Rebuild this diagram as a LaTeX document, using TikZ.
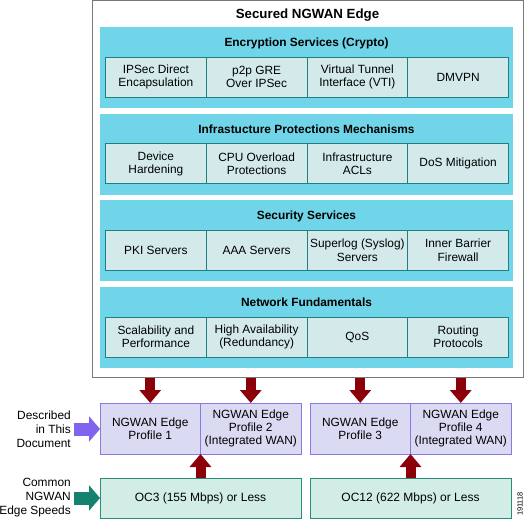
\documentclass[tikz,border=0pt]{standalone}
\usepackage{fontspec}
\setmainfont{Liberation Sans}
\usetikzlibrary{arrows.meta}
\definecolor{outerdraw}{RGB}{120,120,120}
\definecolor{bandfill}{RGB}{112,213,232}
\definecolor{cellfill}{RGB}{212,234,234}
\definecolor{celldraw}{RGB}{30,128,128}
\definecolor{proffill}{RGB}{218,218,242}
\definecolor{profdraw}{RGB}{140,120,228}
\definecolor{speedfill}{RGB}{210,236,230}
\definecolor{speeddraw}{RGB}{40,140,120}
\definecolor{darkred}{RGB}{140,0,10}
\definecolor{purplearrow}{RGB}{128,100,240}
\definecolor{greenarrow}{RGB}{20,130,110}
\tikzset{
  boxbase/.style={anchor=north west, inner sep=0pt, outer sep=0pt, align=center},
  outerbox/.style={boxbase, draw=outerdraw, fill=white, line width=1pt},
  bandbox/.style={boxbase, fill=bandfill, minimum width=413pt, minimum height=81pt},
  cellbox/.style={boxbase, draw=celldraw, fill=cellfill, line width=0.9pt,
    minimum width=100.75pt, minimum height=40pt, font=\fontsize{11.9}{13.3}\selectfont},
  profbox/.style={boxbase, draw=profdraw, fill=proffill, line width=0.9pt,
    minimum height=51pt, font=\fontsize{11.9}{13.3}\selectfont},
  speedbox/.style={boxbase, draw=speeddraw, fill=speedfill, line width=0.9pt,
    minimum width=201pt, minimum height=40pt, font=\fontsize{12}{13.3}\selectfont},
  titletext/.style={font=\bfseries\fontsize{13.3}{14}\selectfont},
  bandtitle/.style={font=\bfseries\fontsize{11.9}{13}\selectfont},
  sidelabel/.style={anchor=east, align=right, inner sep=0pt, font=\fontsize{11.9}{14}\selectfont},
  redarr/.style={draw=darkred, line width=10pt, -{Triangle[width=21pt,length=13pt]}},
  purplearr/.style={draw=purplearrow, line width=13pt, -{Triangle[width=25pt,length=11pt]}},
  greenarr/.style={draw=greenarrow, line width=13pt, -{Triangle[width=25pt,length=11pt]}},
}
\begin{document}
\begin{tikzpicture}[x=1pt,y=-1pt]
\useasboundingbox (0,0) rectangle (527,519);
% outer box
\node[outerbox, minimum width=431pt, minimum height=377pt] (outer) at (92,0.5) {};
\node[titletext] (title) at (307.5,15) {Secured NGWAN Edge};
% band 1
\node[bandbox] (b1) at (100,27) {};
\node[bandtitle] (b1t) at (306.5,43) {Encryption Services (Crypto)};
\node[cellbox] (c11) at (105.5,57) {IPSec Direct\\Encapsulation};
\node[cellbox] (c12) at (206.25,57) {p2p GRE\\Over IPSec};
\node[cellbox] (c13) at (307,57) {Virtual Tunnel\\Interface (VTI)};
\node[cellbox] (c14) at (407.75,57) {DMVPN};
% band 2
\node[bandbox] (b2) at (100,113.7) {};
\node[bandtitle] (b2t) at (306.5,129.2) {Infrastucture Protections Mechanisms};
\node[cellbox] (c21) at (105.5,143.7) {Device\\Hardening};
\node[cellbox] (c22) at (206.25,143.7) {CPU Overload\\Protections};
\node[cellbox] (c23) at (307,143.7) {Infrastructure\\ACLs};
\node[cellbox] (c24) at (407.75,143.7) {DoS Mitigation};
% band 3
\node[bandbox] (b3) at (100,200.3) {};
\node[bandtitle] (b3t) at (306.5,216) {Security Services};
\node[cellbox] (c31) at (105.5,230.3) {PKI Servers};
\node[cellbox] (c32) at (206.25,230.3) {AAA Servers};
\node[cellbox] (c33) at (307,230.3) {Superlog (Syslog)\\Servers};
\node[cellbox] (c34) at (407.75,230.3) {Inner Barrier\\Firewall};
% band 4
\node[bandbox] (b4) at (100,287) {};
\node[bandtitle] (b4t) at (306.5,302) {Network Fundamentals};
\node[cellbox] (c41) at (105.5,317) {Scalability and\\Performance};
\node[cellbox] (c42) at (206.25,317) {High Availability\\(Redundancy)};
\node[cellbox] (c43) at (307,317) {QoS};
\node[cellbox] (c44) at (407.75,317) {Routing\\Protocols};
% profile boxes
\node[profbox, minimum width=100.5pt] (p1) at (100,403) {NGWAN Edge\\Profile 1};
\node[profbox, minimum width=100.5pt] (p2) at (200.5,403) {NGWAN Edge\\Profile 2\\(Integrated WAN)};
\node[profbox, minimum width=100.5pt] (p3) at (310,403) {NGWAN Edge\\Profile 3};
\node[profbox, minimum width=100.5pt] (p4) at (410.5,403) {NGWAN Edge\\Profile 4\\(Integrated WAN)};
% speed boxes
\node[speedbox] (s1) at (100,478) {OC3 (155 Mbps) or Less};
\node[speedbox] (s2) at (310,478) {OC12 (622 Mbps) or Less};
% side labels
\node[sidelabel] (lbl1) at (71,429) {Described\\in This\\Document};
\node[sidelabel] (lbl2) at (71,498) {Common\\NGWAN\\Edge Speeds};
% figure number
\node[rotate=90, inner sep=0pt, font=\fontsize{7.5}{7.5}\selectfont] (fig) at (520,504) {191118};
% arrows
\draw[redarr] (outer.south -| p1.north) -- (p1.north);
\draw[redarr] (outer.south -| p2.north) -- (p2.north);
\draw[redarr] (outer.south -| p3.north) -- (p3.north);
\draw[redarr] (outer.south -| p4.north) -- (p4.north);
\draw[redarr] (s1.north -| p1.south east) -- (p1.south east);
\draw[redarr] (s2.north -| p3.south east) -- (p3.south east);
\draw[purplearr] ([xshift=2.5pt]lbl1.east) -- (lbl1.east -| p1.west);
\draw[greenarr] ([xshift=2.5pt]lbl2.east) -- (lbl2.east -| s1.west);
\end{tikzpicture}
\end{document}
